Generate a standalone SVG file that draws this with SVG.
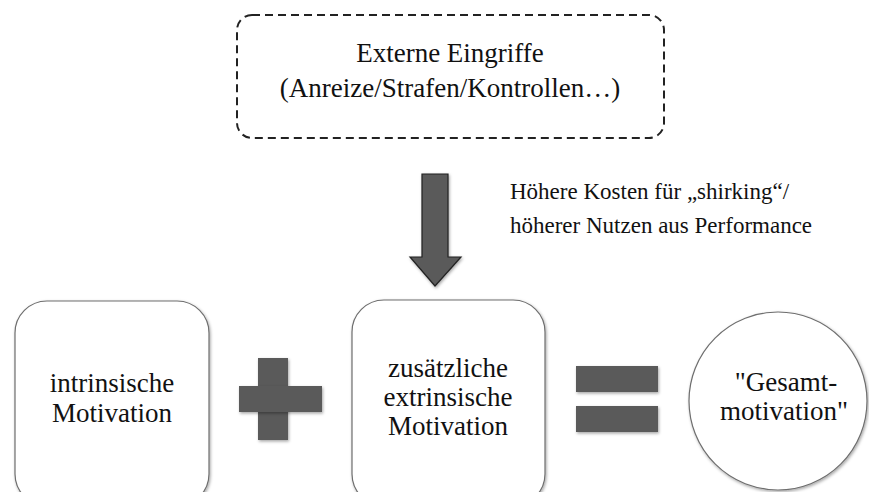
<svg xmlns="http://www.w3.org/2000/svg" width="869" height="492" viewBox="0 0 869 492">
<defs>
<style>
text{font-family:"Liberation Serif","Times New Roman",serif;fill:#111}
.big{font-size:27px;text-anchor:middle}
.lbl{font-size:23px;text-anchor:start}
.node{fill:#fff;stroke:#6e6e6e;stroke-width:1.2}
.op{fill:#5a5a5a;filter:url(#sh)}
</style>
<filter id="sh" x="-20%" y="-20%" width="140%" height="140%">
<feDropShadow dx="1" dy="1.5" stdDeviation="1.5" flood-color="#000" flood-opacity="0.35"/>
</filter>
</defs>
<rect width="869" height="492" fill="#fff"/>
<g id="externe">
<rect x="237" y="15" width="427" height="123" rx="15" fill="#fff" stroke="#222" stroke-width="2" stroke-dasharray="8,5"/>
<text class="big" x="450" y="62" font-family="Liberation Serif, serif">Externe Eingriffe</text>
<text class="big" x="450" y="97" font-family="Liberation Serif, serif">(Anreize/Strafen/Kontrollen…)</text>
</g>
<g id="connectors">
<polygon points="422,174 448,174 448,257 461,257 435,286 410,257 422,257" fill="#5a5a5a" stroke="#222" stroke-width="1.2" filter="url(#sh)"/>
<text class="lbl" x="510" y="199" font-family="Liberation Serif, serif">Höhere Kosten für „shirking“/</text>
<text class="lbl" x="510" y="233" font-family="Liberation Serif, serif">höherer Nutzen aus Performance</text>
</g>
<g id="intrinsisch">
<rect class="node" x="15" y="301" width="194" height="205" rx="32" filter="url(#sh)"/>
<text class="big" x="112" y="392" font-family="Liberation Serif, serif">intrinsische</text>
<text class="big" x="112" y="422" font-family="Liberation Serif, serif">Motivation</text>
</g>
<g id="plus">
<rect class="op" x="258" y="358" width="30" height="82"/>
<rect class="op" x="239" y="386" width="83" height="26"/>
</g>
<g id="extrinsisch">
<rect class="node" x="352" y="300" width="193" height="206" rx="32" filter="url(#sh)"/>
<text class="big" x="448" y="377" font-family="Liberation Serif, serif">zusätzliche</text>
<text class="big" x="448" y="406" font-family="Liberation Serif, serif">extrinsische</text>
<text class="big" x="448" y="435" font-family="Liberation Serif, serif">Motivation</text>
</g>
<g id="gleich">
<rect class="op" x="576" y="366" width="82" height="26"/>
<rect class="op" x="576" y="406" width="82" height="26"/>
</g>
<g id="gesamt">
<circle class="node" cx="778" cy="401" r="89" filter="url(#sh)"/>
<text class="big" x="786" y="391" font-family="Liberation Serif, serif">"Gesamt-</text>
<text class="big" x="784" y="420" font-family="Liberation Serif, serif">motivation"</text>
</g>
</svg>
